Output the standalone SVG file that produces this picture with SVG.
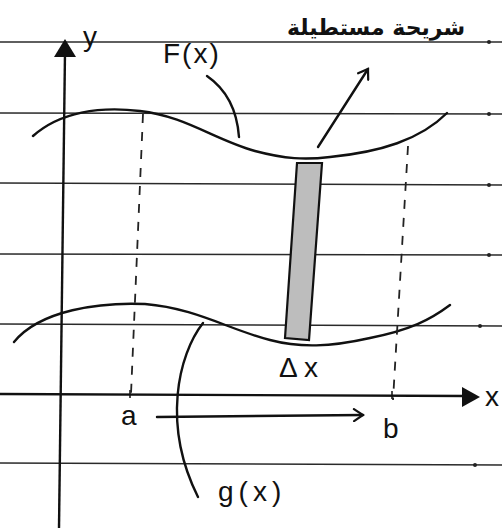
<svg xmlns="http://www.w3.org/2000/svg" width="502" height="528" viewBox="0 0 502 528">
<style>
.rule{stroke:#2a2a2a;stroke-width:1.3;fill:none}
.dot{fill:#222}
.ax{stroke:#111;stroke-width:2.4;fill:none}
.cur{stroke:#111;stroke-width:2.4;fill:none;stroke-linecap:round}
.dash{stroke:#222;stroke-width:1.8;fill:none;stroke-dasharray:9 9}
.lbl{font-family:"Liberation Sans",Arial,sans-serif;fill:#111;font-size:28px}
.ar{font-family:"DejaVu Sans","Noto Sans",sans-serif;fill:#111;font-size:22px;font-weight:bold}
</style>
<defs>
<marker id="open" markerWidth="14" markerHeight="14" refX="11" refY="7" orient="auto" markerUnits="userSpaceOnUse">
<path d="M2,1 L11,7 L2,13" fill="none" stroke="#111" stroke-width="2.2" stroke-linecap="round"/>
</marker>
</defs>
<rect width="502" height="528" fill="#fff"/>
<g id="paper">
<line class="rule" x1="0" y1="42" x2="502" y2="42"/>
<line class="rule" x1="0" y1="113" x2="502" y2="114"/>
<line class="rule" x1="0" y1="183" x2="502" y2="185"/>
<line class="rule" x1="0" y1="254" x2="502" y2="255"/>
<line class="rule" x1="0" y1="324" x2="502" y2="326"/>
<line class="rule" x1="0" y1="463" x2="502" y2="465"/>
<circle class="dot" cx="489" cy="42" r="2"/>
<circle class="dot" cx="489" cy="114" r="2"/>
<circle class="dot" cx="489" cy="185" r="2"/>
<circle class="dot" cx="489" cy="255" r="2"/>
<circle class="dot" cx="480" cy="326" r="2"/>
<circle class="dot" cx="475" cy="465" r="2"/>
</g>
<g id="y-axis">
<line class="ax" x1="59" y1="528" x2="65" y2="52"/>
<polygon points="65,39 54,57 76,57" fill="#111"/>
<text class="lbl" x="83" y="46" font-size="30">y</text>
</g>
<g id="x-axis">
<line class="ax" x1="0" y1="394" x2="466" y2="396"/>
<polygon points="480,397 462,387 462,407" fill="#111"/>
<line x1="130" y1="390" x2="130" y2="398" stroke="#111" stroke-width="1.5"/>
<line x1="392" y1="391" x2="392" y2="399" stroke="#111" stroke-width="1.5"/>
<text class="lbl" x="485" y="406" font-size="24">x</text>
</g>
<g id="f-curve">
<path class="cur" d="M33,136 C60,112 100,106 140,111 C185,116 215,140 255,151 C285,159 305,160 330,157 C380,152 420,140 447,113"/>
<text class="lbl" x="163" y="63" font-size="30" letter-spacing="2">F(x)</text>
</g>
<g id="g-curve">
<path class="cur" d="M14,342 C40,310 100,302 145,304 C195,308 230,330 270,340 C300,348 330,347 370,338 C410,330 430,320 450,305"/>
<text class="lbl" x="218" y="501" font-size="28" letter-spacing="5">g(x)</text>
</g>
<g id="strip">
<polygon points="297,163 322,163 309,340 285,338" fill="#bdbdbd" stroke="#111" stroke-width="2.2"/>
<text class="lbl" x="279" y="377" font-size="21">Δ x</text>
</g>
<g id="strip-label">
<text class="ar" x="376" y="35" text-anchor="middle">شريحة مستطيلة</text>
</g>
<g id="bound-a">
<text class="lbl" x="121" y="425" font-size="30">a</text>
</g>
<g id="bound-b">
<text class="lbl" x="383" y="438" font-size="30">b</text>
</g>
<g id="connectors">
<line class="dash" x1="143" y1="114" x2="131" y2="394"/>
<line class="dash" x1="408" y1="146" x2="393" y2="400" stroke-dasharray="7 10"/>
<path class="cur" d="M207,76 Q236,96 239,137"/>
<path class="cur" d="M203,323 C178,355 162,425 198,497"/>
<line class="cur" x1="318" y1="147" x2="368" y2="69" marker-end="url(#open)"/>
<line class="cur" x1="157" y1="417" x2="363" y2="415" marker-end="url(#open)"/>
</g>
</svg>
